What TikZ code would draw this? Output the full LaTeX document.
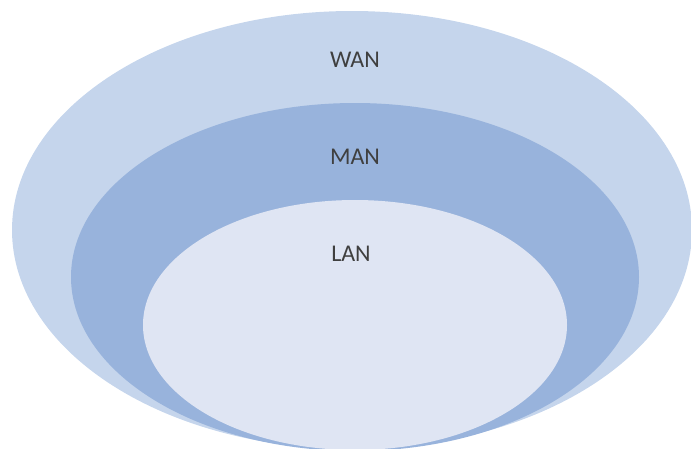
\documentclass[tikz,border=0pt]{standalone}
\usepackage{fontspec}
\setmainfont{Carlito}
\usetikzlibrary{shapes.geometric}
\definecolor{wanfill}{HTML}{C5D5EC}
\definecolor{manfill}{HTML}{98B3DC}
\definecolor{lanfill}{HTML}{DFE5F3}
\definecolor{labelgray}{HTML}{3F3F3F}
\tikzset{
  zone/.style={ellipse, draw=none, inner sep=0pt, outer sep=0pt},
  zonelabel/.style={text=labelgray, font=\fontsize{24}{28}\selectfont, inner sep=0pt}
}
\begin{document}
\begin{tikzpicture}[x=1pt,y=-1pt]
\useasboundingbox (0,0) rectangle (691,448);
\begin{scope}
\clip (0,0) rectangle (691,448);
\node[zone, fill=wanfill, minimum width=680pt, minimum height=438pt] (wan) at (352,230) {};
\node[zone, fill=manfill, minimum width=568pt, minimum height=348pt] (man) at (355,277) {};
\node[zone, fill=lanfill, minimum width=424pt, minimum height=250pt] (lan) at (355,325) {};
\end{scope}
\node[zonelabel] (wanlabel) at (355,60) {WAN};
\node[zonelabel] (manlabel) at (355,156.5) {MAN};
\node[zonelabel] (lanlabel) at (351,253.5) {LAN};
\end{tikzpicture}
\end{document}
